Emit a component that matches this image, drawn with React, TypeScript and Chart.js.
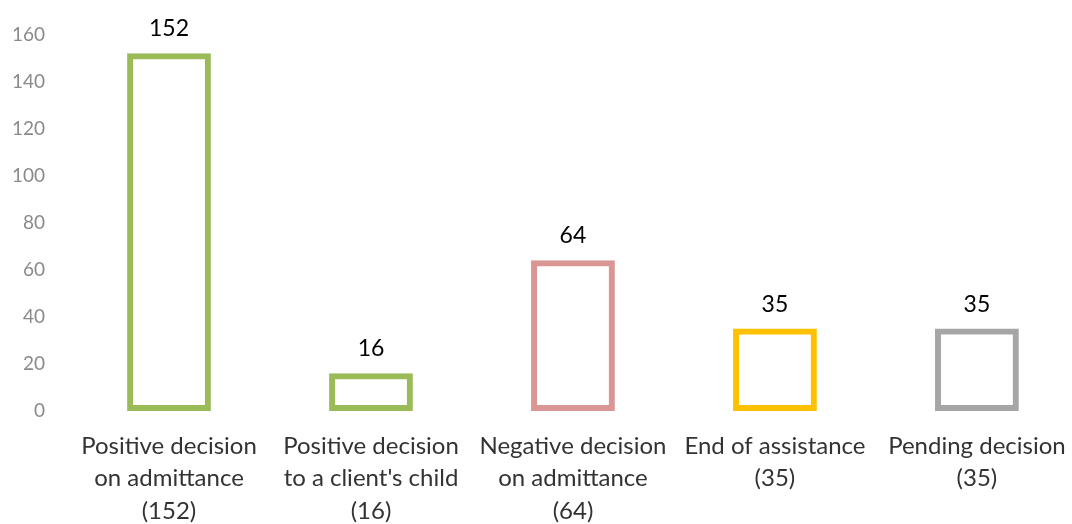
import React, { useEffect, useRef } from "react";
import { Chart, registerables } from "chart.js";

Chart.register(...registerables);

const categories: string[][] = [
  ["Positive decision", "on admittance", "(152)"],
  ["Positive decision", "to a client's child", "(16)"],
  ["Negative decision", "on admittance", "(64)"],
  ["End of assistance", "(35)"],
  ["Pending decision", "(35)"],
];
const values: number[] = [152, 16, 64, 35, 35];
const barColors: string[] = ["#9BBB59", "#9BBB59", "#D99694", "#FFC000", "#A6A6A6"];
const yTicks = { min: 0, max: 160, step: 20 };

const FONT = "Lato, 'Open Sans', sans-serif";

const valueLabels = {
  id: "valueLabels",
  afterDatasetsDraw(chart: any) {
    const ctx = chart.ctx;
    const meta = chart.getDatasetMeta(0);
    ctx.save();
    ctx.font = `23px ${FONT}`;
    ctx.fillStyle = "#000000";
    ctx.textAlign = "center";
    ctx.textBaseline = "alphabetic";
    meta.data.forEach((bar: any, i: number) => {
      ctx.fillText(String(values[i]), bar.x, bar.y - 17);
    });
    ctx.restore();
  },
};

export default function App() {
  const ref = useRef<HTMLCanvasElement | null>(null);
  useEffect(() => {
    if (!ref.current) return;
    const chart = new Chart(ref.current, {
      type: "bar",
      data: {
        labels: categories,
        datasets: [
          {
            data: values,
            backgroundColor: "rgba(255,255,255,0)",
            borderColor: barColors,
            borderWidth: 6,
            borderSkipped: false,
            barPercentage: 1,
            categoryPercentage: 0.415,
          },
        ],
      },
      options: {
        animation: false,
        responsive: true,
        maintainAspectRatio: false,
        layout: { padding: { top: 25.1, right: 3, left: 0, bottom: 0 } },
        plugins: {
          legend: { display: false },
          tooltip: { enabled: false },
          title: { display: false },
        },
        scales: {
          x: {
            grid: { display: false, drawTicks: false },
            border: { display: false },
            ticks: {
              color: "#333333",
              font: { family: FONT, size: 24, lineHeight: 1.35 },
              padding: 19,
              maxRotation: 0,
              autoSkip: false,
            },
            afterFit: (scale: any) => {
              scale.height = 113;
            },
          },
          y: {
            min: yTicks.min,
            max: yTicks.max,
            grid: { display: false, drawTicks: false },
            border: { display: false },
            ticks: {
              stepSize: yTicks.step,
              color: "#8a8a8a",
              font: { family: FONT, size: 19 },
              padding: 23,
            },
            afterFit: (scale: any) => {
              scale.width = 68;
            },
          },
        },
      },
      plugins: [valueLabels],
    });
    return () => chart.destroy();
  }, []);

  return (
    <div
      style={{
        position: "fixed",
        left: 0,
        top: 0,
        width: 1072,
        height: 524,
        overflow: "hidden",
        background: "#ffffff",
      }}
    >
      <div style={{ position: "relative", width: 1085, height: 524 }}>
        <canvas ref={ref} />
      </div>
    </div>
  );
}
